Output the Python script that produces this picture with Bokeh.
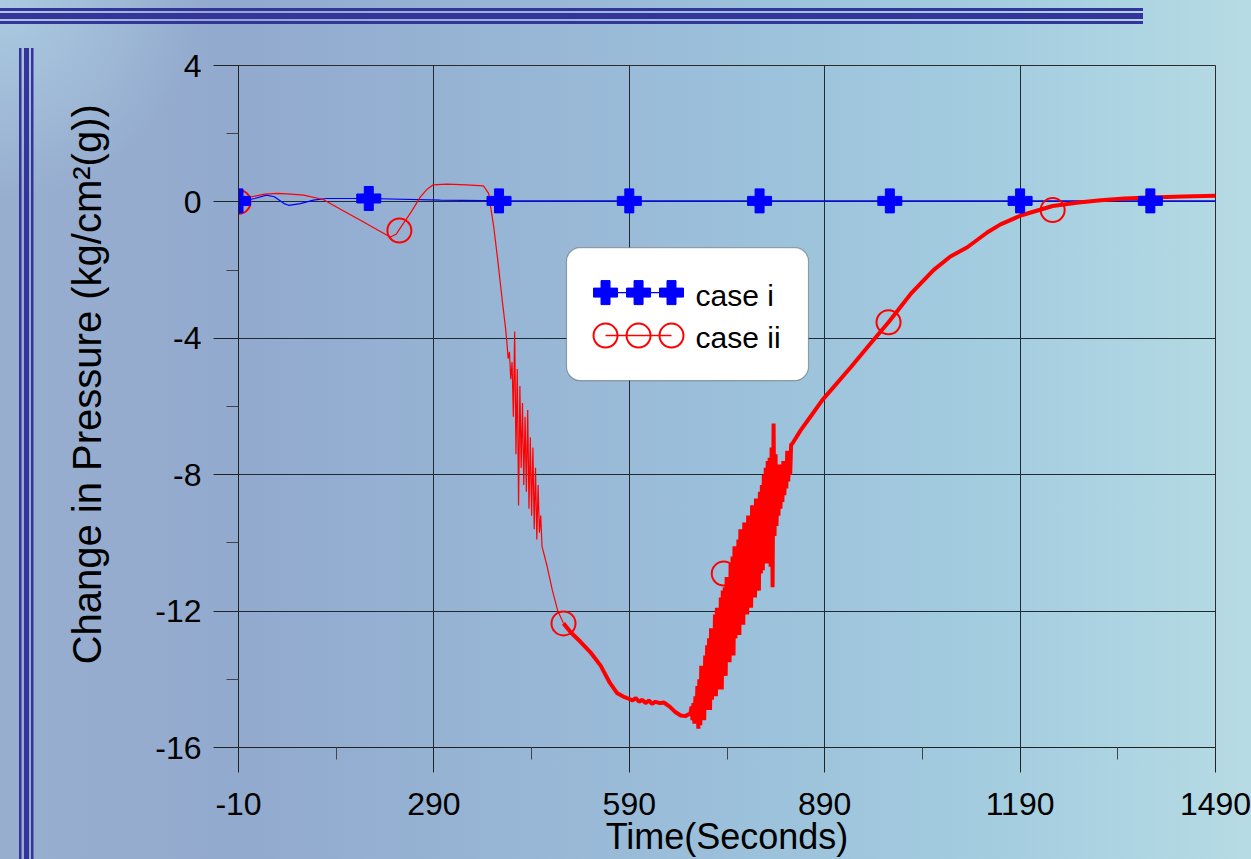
from bokeh.plotting import figure
from bokeh.models import FixedTicker, BoxAnnotation, Label
from bokeh.embed import file_html
from bokeh.resources import INLINE

# ---------------- data ----------------
x_major = [-10, 290, 590, 890, 1190, 1490]
x_minor = [140, 440, 740, 1040, 1340]
y_major = [4, 0, -4, -8, -12, -16]
y_minor = [2, -2, -6, -10, -14]

# case i
case1_t = [-10, 15, 33, 45, 60, 67, 85, 105, 125, 190, 300, 400, 700, 1000, 1300, 1490]
case1_v = [0.0, 0.1, 0.2, 0.15, -0.05, -0.1, -0.05, 0.05, 0.1, 0.1, 0.05, 0.03, 0.03, 0.03, 0.03, 0.03]
case1_mark_t = [-10, 190, 390, 590, 790, 990, 1190, 1390]
case1_mark_v = [0.03, 0.1, 0.03, 0.03, 0.03, 0.03, 0.03, 0.03]

# case ii (early, thin trace)
case2_a_t = [-10, 10, 30, 50, 70, 90, 120, 150, 180, 205, 223, 232, 240, 255, 269, 280,
             289, 310, 340, 366, 374, 382, 388, 395, 400]
case2_a_v = [0.0, 0.15, 0.23, 0.25, 0.23, 0.2, 0.07, -0.25, -0.57, -0.84, -1.03, -0.95,
             -0.72, -0.3, 0.14, 0.38, 0.5, 0.52, 0.5, 0.47, 0.25, -0.75, -1.7, -2.9, -3.7]
# first oscillation burst, sampled every 2 s from t = 402
burst1_start, burst1_step = 402, 2
burst1_v = [-4.1, -4.6, -4.4, -5.2, -4.7, -6.3, -3.8, -7.4, -4.9, -8.9,
            -5.4, -7.8, -5.9, -8.3, -6.3, -8.5, -6.1, -9.0, -6.9, -9.2,
            -7.2, -9.6, -7.8, -9.9, -8.3, -9.7, -9.2, -10.1]
case2_c_t = [464, 472, 480, 489]
case2_c_v = [-10.7, -11.4, -11.98, -12.36]

# case ii (later, thick trace)
case2_d_t = [489, 500, 515, 530, 546, 560, 571, 580, 589, 595, 600, 605, 610, 615, 620,
             625, 630, 637, 643, 652, 660, 669, 676, 682]
case2_d_v = [-12.36, -12.62, -12.9, -13.2, -13.6, -14.1, -14.4, -14.5, -14.57, -14.62,
             -14.55, -14.66, -14.6, -14.7, -14.62, -14.72, -14.66, -14.7, -14.68, -14.8,
             -14.95, -15.06, -15.08, -15.02]
# second oscillation burst, sampled every 1.5 s from t = 684
burst2_start, burst2_step = 684, 1.5
burst2_v = [-15.0, -14.8, -15.2, -14.7, -15.3, -14.5, -15.25, -14.2, -15.45, -14.0,
            -15.35, -13.6, -15.1, -13.9, -15.2, -13.3, -14.9, -13.0, -14.8, -12.8,
            -14.9, -12.5, -14.6, -12.7, -14.4, -12.1, -14.5, -11.9, -14.3, -12.2,
            -14.1, -11.6, -14.3, -11.4, -13.7, -11.3, -13.9, -11.0, -13.4, -11.2,
            -13.5, -10.6, -13.1, -10.4, -13.3, -10.1, -12.8, -10.3, -12.6, -9.9,
            -12.7, -9.6, -12.3, -9.8, -12.4, -9.4, -12.0, -9.5, -12.1, -9.2,
            -11.8, -9.3, -11.9, -8.9, -11.5, -9.1, -11.6, -8.7, -11.2, -8.8,
            -11.4, -8.5, -10.9, -8.3, -10.8, -8.0, -10.5, -7.8, -10.6, -7.6,
            -10.2, -7.5, -10.7, -7.2, -11.3, -6.5, -9.8, -7.4, -9.5, -7.9,
            -9.2, -7.7, -9.0, -8.1, -8.8, -7.6, -8.6, -7.7, -8.4, -7.3,
            -8.2, -7.4, -8.0, -7.1]
case2_f_t = [840, 853, 870, 886, 930, 960, 988, 1022, 1057, 1083, 1109, 1140, 1160, 1191,
             1240, 1280, 1314, 1350, 1390, 1440, 1490]
case2_f_v = [-7.1, -6.7, -6.25, -5.82, -4.85, -4.16, -3.53, -2.7, -2.0, -1.6, -1.33, -0.89,
             -0.66, -0.4, -0.12, -0.02, 0.05, 0.1, 0.13, 0.16, 0.18]
case2_mark_t = [-10, 237, 489, 735, 988, 1240]
case2_mark_v = [0.0, -0.84, -12.36, -10.9, -3.53, -0.24]

series_names = ["case i", "case ii"]

# ---------------- assemble ----------------
burst1_t = [burst1_start + burst1_step * i for i in range(len(burst1_v))]
burst2_t = [burst2_start + burst2_step * i for i in range(len(burst2_v))]
thin_t = case2_a_t + burst1_t + case2_c_t
thin_v = case2_a_v + burst1_v + case2_c_v
thick_t = case2_d_t + burst2_t + case2_f_t
thick_v = case2_d_v + burst2_v + case2_f_v

FONT = "Liberation Sans"
BLUE = "#0000ff"
RED = "#ff0000"
LINE_DARK = "#34349a"

p = figure(width=1251, height=859, x_range=(-10, 1490), y_range=(-16, 4),
           output_backend="svg", toolbar_location=None,
           min_border_left=238, min_border_right=36, min_border_top=65,
           min_border_bottom=112)
p.background_fill_color = None
p.border_fill_color = None
p.outline_line_color = "#2b2b2b"
p.outline_line_width = 1

bg_layers = [
    f"linear-gradient({LINE_DARK},{LINE_DARK}) 0px 8px / 1143px 3px no-repeat",
    f"linear-gradient({LINE_DARK},{LINE_DARK}) 0px 13px / 1143px 6px no-repeat",
    f"linear-gradient({LINE_DARK},{LINE_DARK}) 0px 21px / 1143px 3px no-repeat",
    f"linear-gradient({LINE_DARK},{LINE_DARK}) 19px 48px / 2.5px 811px no-repeat",
    f"linear-gradient({LINE_DARK},{LINE_DARK}) 23.5px 48px / 5px 811px no-repeat",
    f"linear-gradient({LINE_DARK},{LINE_DARK}) 31px 48px / 2.5px 811px no-repeat",
    "radial-gradient(circle at 0 0, rgba(172,204,226,0.95), rgba(172,204,226,0) 200px)",
    "linear-gradient(90deg, #98aecf 0%, #92aace 20%, #97b5d5 40%, #9cc1db 60%, #a4cde0 80%, #b6dbe4 100%)",
]
p.styles = {"background": ", ".join(bg_layers)}

xt = FixedTicker(ticks=x_major, minor_ticks=x_minor)
yt = FixedTicker(ticks=y_major, minor_ticks=y_minor)
p.xaxis.ticker = xt
p.yaxis.ticker = yt
p.xaxis.major_label_overrides = {t: str(t) for t in x_major}
p.yaxis.major_label_overrides = {t: str(t) for t in y_major}
p.xgrid.ticker = FixedTicker(ticks=x_major)
p.ygrid.ticker = FixedTicker(ticks=y_major)
for g in (p.xgrid[0], p.ygrid[0]):
    g.grid_line_color = "#1f2a35"
    g.grid_line_alpha = 1.0
    g.grid_line_width = 1

for ax in (p.xaxis[0], p.yaxis[0]):
    ax.major_tick_out = 25
    ax.major_tick_in = 0
    ax.minor_tick_out = 12
    ax.minor_tick_in = 0
    ax.axis_line_color = "#222222"
    ax.major_tick_line_color = "#222222"
    ax.minor_tick_line_color = "#444444"
    ax.major_label_text_font = FONT
    ax.major_label_text_font_size = "32px"
    ax.major_label_text_color = "black"
    ax.axis_label_text_font = FONT
    ax.axis_label_text_font_style = "normal"
    ax.axis_label_text_color = "black"

p.xaxis.major_label_standoff = 20
p.xaxis.axis_label = "Time(Seconds)"
p.xaxis.axis_label_text_font_size = "36px"
p.xaxis.axis_label_standoff = -2
p.yaxis.major_label_standoff = 12
# leading no-break spaces lift the title slightly above the frame centre, as in the reference
p.yaxis.axis_label = "\u00a0\u00a0\u00a0\u00a0Change in Pressure (kg/cm²(g))"
p.yaxis.axis_label_text_font_size = "40px"
p.yaxis.axis_label_standoff = 43

# series
p.line(case1_t, case1_v, line_color=BLUE, line_width=1.2)
p.line(thin_t, thin_v, line_color=RED, line_width=1.2)
p.line(thick_t, thick_v, line_color=RED, line_width=4)
p.scatter(case2_mark_t, case2_mark_v, marker="circle", size=24, fill_color=None,
          line_color=RED, line_width=2)
p.scatter(case1_mark_t, case1_mark_v, marker="plus", size=24, fill_color=BLUE,
          line_color=BLUE)

# ---------------- legend (drawn by hand: three markers per entry) ----------------
leg_left, leg_right, leg_top, leg_bottom = 493.6, 865.1, -1.34, -5.24
leg_marks_x = [553.5, 604.2, 654.8]
leg_row_y = [-2.66, -3.92]
leg_text_x = 691.7
leg_text_y = [-2.74, -3.98]

box = BoxAnnotation(left=leg_left, right=leg_right, top=leg_top, bottom=leg_bottom,
                    fill_color="white", fill_alpha=1.0, line_color="black",
                    line_width=1.2, border_radius=14, level="annotation")
p.add_layout(box)

p.line([leg_marks_x[0], leg_marks_x[-1]], [leg_row_y[0]] * 2, line_color=BLUE,
       line_width=1.2, level="overlay")
p.scatter(leg_marks_x, [leg_row_y[0]] * 3, marker="plus", size=24, fill_color=BLUE,
          line_color=BLUE, level="overlay")
p.line([leg_marks_x[0], leg_marks_x[-1]], [leg_row_y[1]] * 2, line_color=RED,
       line_width=1.5, level="overlay")
p.scatter(leg_marks_x, [leg_row_y[1]] * 3, marker="circle", size=24, fill_color=None,
          line_color=RED, line_width=2, level="overlay")
for name, ty in zip(series_names, leg_text_y):
    p.add_layout(Label(x=leg_text_x, y=ty, text=name, text_font=FONT,
                       text_font_size="30px", text_color="black",
                       text_baseline="middle", text_align="left", level="overlay"))

with open("out.html", "w") as f:
    f.write(file_html(p, INLINE, title="Change in Pressure"))
